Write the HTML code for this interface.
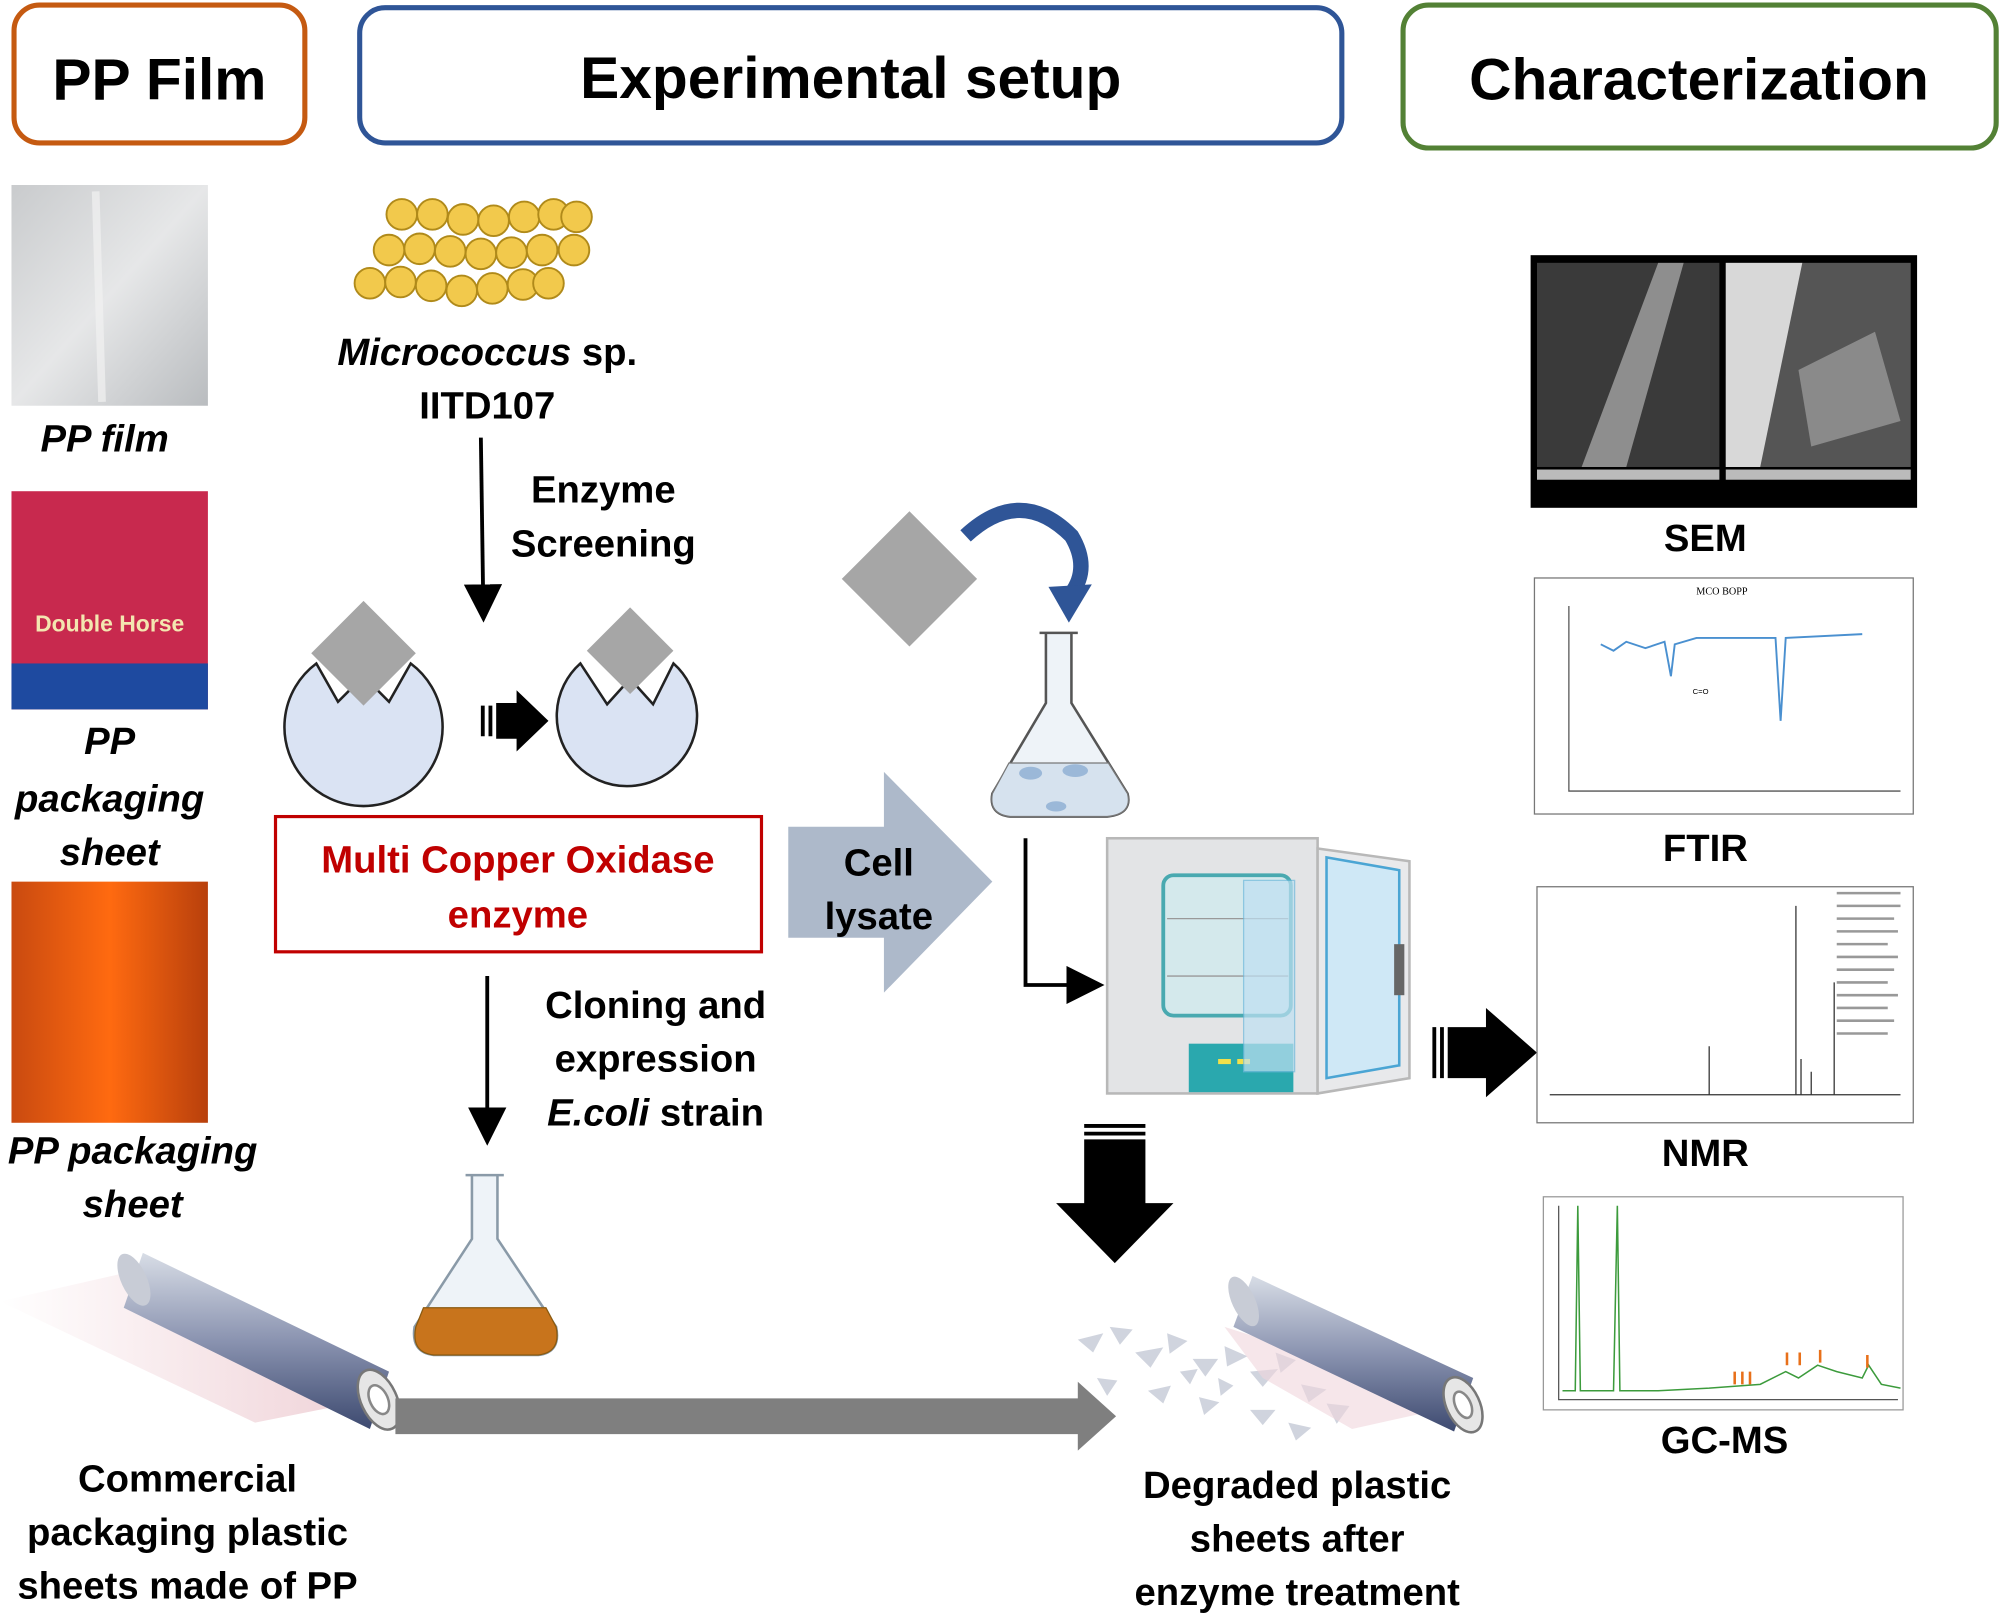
<!DOCTYPE html>
<html><head><meta charset="utf-8"><style>
html,body{margin:0;padding:0;background:#fff}
svg{display:block}
text{font-family:"Liberation Sans",sans-serif;font-weight:bold;fill:#000}
</style></head><body>
<svg width="2000" height="1614" viewBox="0 0 1568 1265" preserveAspectRatio="none" xmlns="http://www.w3.org/2000/svg">
<defs>
<linearGradient id="film" x1="0" y1="0" x2="1" y2="1"><stop offset="0" stop-color="#c9cbcd"/><stop offset="0.5" stop-color="#e6e7e8"/><stop offset="1" stop-color="#b9bcbf"/></linearGradient>
<linearGradient id="org" x1="0" x2="1"><stop offset="0" stop-color="#c94a10"/><stop offset="0.5" stop-color="#ff6a10"/><stop offset="1" stop-color="#b8400c"/></linearGradient>
<linearGradient id="roll" x1="0" y1="0" x2="0" y2="1"><stop offset="0" stop-color="#d8dde6"/><stop offset="0.5" stop-color="#8a93b0"/><stop offset="1" stop-color="#3d4a70"/></linearGradient>
<linearGradient id="sheet" x1="0" x2="1"><stop offset="0" stop-color="#fff"/><stop offset="1" stop-color="#e8bcc4"/></linearGradient>
<marker id="ah" markerWidth="10" markerHeight="10" refX="8" refY="5" orient="auto"><path d="M0,0 L10,5 L0,10 z" fill="#000"/></marker>
</defs>
<rect x="11" y="4" width="228" height="108" rx="20" fill="#fff" stroke="#c55a11" stroke-width="4"/>
<text x="125" y="78" font-size="46" text-anchor="middle">PP Film</text>
<rect x="282" y="6" width="770" height="106" rx="20" fill="#fff" stroke="#2f5597" stroke-width="4"/>
<text x="667" y="77" font-size="46" text-anchor="middle">Experimental setup</text>
<rect x="1100" y="4" width="465" height="112" rx="20" fill="#fff" stroke="#538135" stroke-width="4"/>
<text x="1332" y="78" font-size="46" text-anchor="middle">Characterization</text>

<rect x="9" y="145" width="154" height="173" fill="url(#film)"/>
<path d="M75 150 L80 315" stroke="#f2f2f2" stroke-width="6" opacity="0.7"/>
<text x="82" y="354" font-size="30" font-style="italic" text-anchor="middle">PP film</text>
<rect x="9" y="385" width="154" height="171" fill="#c8294e"/>
<rect x="9" y="520" width="154" height="36" fill="#1e4aa0"/>
<text x="86" y="495" font-size="18" text-anchor="middle" style="fill:#f3e6b0">Double Horse</text>
<text x="86" y="591" font-size="30" font-style="italic" text-anchor="middle">PP</text>
<text x="86" y="636" font-size="30" font-style="italic" text-anchor="middle">packaging</text>
<text x="86" y="678" font-size="30" font-style="italic" text-anchor="middle">sheet</text>
<rect x="9" y="691" width="154" height="189" fill="url(#org)"/>
<text x="104" y="912" font-size="30" font-style="italic" text-anchor="middle">PP packaging</text>
<text x="104" y="954" font-size="30" font-style="italic" text-anchor="middle">sheet</text>

<g fill="#f2c94c" stroke="#b08a1a" stroke-width="1.5">
<circle cx="315" cy="168" r="12"/><circle cx="339" cy="168" r="12"/><circle cx="363" cy="172" r="12"/><circle cx="387" cy="173" r="12"/><circle cx="411" cy="170" r="12"/><circle cx="434" cy="168" r="12"/><circle cx="452" cy="170" r="12"/>
<circle cx="305" cy="196" r="12"/><circle cx="329" cy="195" r="12"/><circle cx="353" cy="197" r="12"/><circle cx="377" cy="199" r="12"/><circle cx="401" cy="198" r="12"/><circle cx="425" cy="196" r="12"/><circle cx="450" cy="196" r="12"/>
<circle cx="290" cy="222" r="12"/><circle cx="314" cy="221" r="12"/><circle cx="338" cy="224" r="12"/><circle cx="362" cy="228" r="12"/><circle cx="386" cy="226" r="12"/><circle cx="410" cy="223" r="12"/><circle cx="430" cy="222" r="12"/>
</g>
<text x="382" y="286" font-size="30" text-anchor="middle"><tspan font-style="italic">Micrococcus</tspan> sp.</text>
<text x="382" y="328" font-size="30" text-anchor="middle">IITD107</text>
<line x1="377" y1="343" x2="379" y2="482" stroke="#000" stroke-width="3" marker-end="url(#ah)"/>
<text x="473" y="394" font-size="30" text-anchor="middle">Enzyme</text>
<text x="473" y="436" font-size="30" text-anchor="middle">Screening</text>

<path d="M248 520 A62 62 0 1 0 322 520 L305 550 L285 530 L265 550 Z" fill="#dae3f3" stroke="#222" stroke-width="2"/>
<rect x="256" y="483" width="58" height="58" fill="#a6a6a6" transform="rotate(45 285 512)"/>
<path d="M455 520 A55 55 0 1 0 528 520 L512 552 L494 532 L476 552 Z" fill="#dae3f3" stroke="#222" stroke-width="2"/>
<rect x="470" y="486" width="48" height="48" fill="#a6a6a6" transform="rotate(45 494 510)"/>
<path d="M377 553 h3 v24 h-3z M383 553 h3 v24 h-3z M389 551 h16 v-10 l25 24 l-25 24 v-10 h-16 z" fill="#000"/>

<rect x="216" y="640" width="381" height="106" fill="#fff" stroke="#c00000" stroke-width="2.5"/>
<text x="406" y="684" font-size="30" text-anchor="middle" style="fill:#c00000">Multi Copper Oxidase</text>
<text x="406" y="727" font-size="30" text-anchor="middle" style="fill:#c00000">enzyme</text>
<line x1="382" y1="765" x2="382" y2="892" stroke="#000" stroke-width="3" marker-end="url(#ah)"/>
<text x="514" y="798" font-size="30" text-anchor="middle">Cloning and</text>
<text x="514" y="840" font-size="30" text-anchor="middle">expression</text>
<text x="514" y="882" font-size="30" text-anchor="middle"><tspan font-style="italic">E.coli</tspan> strain</text>

<path d="M365 921 h30 M370 921 v50 L325 1040 Q322 1060 340 1062 h82 Q440 1060 436 1040 L390 971 v-50" fill="#eef3f8" stroke="#8a9aa8" stroke-width="2"/>
<path d="M332 1025 h96 L436 1040 Q440 1060 422 1062 h-82 Q322 1060 326 1040 Z" fill="#c8741c" stroke="#8a5a10"/>

<path d="M618 648 h75 v-43 l85 86 l-85 87 v-43 h-75 z" fill="#adb9ca"/>
<text x="689" y="686" font-size="30" text-anchor="middle">Cell</text>
<text x="689" y="728" font-size="30" text-anchor="middle">lysate</text>

<rect x="676" y="416" width="75" height="75" fill="#a6a6a6" transform="rotate(45 713 453)"/>
<path d="M757 420 Q800 380 840 420 Q855 445 840 465" fill="none" stroke="#2f5597" stroke-width="12"/>
<path d="M822 460 L838 488 L856 458 Z" fill="#2f5597"/>
<path d="M815 496 h30 M820 496 v55 L778 622 Q775 638 792 640 h76 Q888 638 884 622 L840 551 v-55" fill="#eef3f8" stroke="#555" stroke-width="2"/>
<path d="M791 598 h78 L884 622 Q888 638 868 640 h-76 Q775 638 778 622 Z" fill="#d6e2ee" stroke="#777"/>
<ellipse cx="808" cy="606" rx="9" ry="5" fill="#9bb8d8"/><ellipse cx="843" cy="604" rx="10" ry="5" fill="#9bb8d8"/><ellipse cx="828" cy="632" rx="8" ry="4" fill="#9bb8d8"/>
<path d="M804 657 V772 H860" fill="none" stroke="#000" stroke-width="3" marker-end="url(#ah)"/>

<rect x="868" y="657" width="165" height="200" fill="#e3e4e6" stroke="#b8b8b8" stroke-width="2"/>
<rect x="912" y="686" width="100" height="110" rx="8" fill="#d4e9ec" stroke="#49a9b0" stroke-width="3"/>
<line x1="915" y1="720" x2="1010" y2="720" stroke="#999"/><line x1="915" y1="765" x2="1010" y2="765" stroke="#999"/>
<rect x="932" y="818" width="82" height="38" fill="#2aa8ae"/>
<rect x="955" y="830" width="10" height="4" fill="#f2e04a"/><rect x="970" y="830" width="10" height="4" fill="#f2e04a"/>
<path d="M1033 665 L1105 675 V845 L1033 857 Z" fill="#e8e9eb" stroke="#b8b8b8" stroke-width="2"/>
<path d="M1040 672 L1097 682 V835 L1040 845 Z" fill="#cfe8f6" stroke="#4aa5d4" stroke-width="2"/>
<rect x="1093" y="740" width="8" height="40" fill="#666"/>
<path d="M975 690 h40 v150 h-40z" fill="#bfe0f2" opacity="0.7" stroke="#6fb9dc"/>

<path d="M1123 805 h3 v40 h-3z M1129 805 h3 v40 h-3z M1135 805 h30 v-15 l40 35 l-40 35 v-15 h-30z" fill="#000"/>
<path d="M850 881 h48 v3 h-48z M850 887 h48 v3 h-48z M850 893 h48 v50 h22 l-46 47 l-46 -47 h22z" fill="#000"/>

<path d="M0 1020 L110 995 L300 1095 L200 1115 Z" fill="url(#sheet)" opacity="0.7"/>
<path d="M112 982 L305 1075 L290 1120 L97 1025 Z" fill="url(#roll)"/>
<ellipse cx="105" cy="1003" rx="10" ry="22" transform="rotate(-25 105 1003)" fill="#c8ccd6"/>
<ellipse cx="297" cy="1097" rx="14" ry="25" transform="rotate(-25 297 1097)" fill="#e6e6e6" stroke="#777" stroke-width="2"/>
<ellipse cx="297" cy="1097" rx="7" ry="12" transform="rotate(-25 297 1097)" fill="#fff" stroke="#888" stroke-width="2"/>
<path d="M310 1096 h535 v-13 l30 27 l-30 27 v-13 h-535z" fill="#7f7f7f"/>
<text x="147" y="1169" font-size="30" text-anchor="middle">Commercial</text>
<text x="147" y="1211" font-size="30" text-anchor="middle">packaging plastic</text>
<text x="147" y="1253" font-size="30" text-anchor="middle">sheets made of PP</text>

<g fill="#c8ccd8" opacity="0.85">
<path d="M845 1050 l20 -5 l-8 15z M870 1040 l18 2 l-10 12z M890 1060 l22 -4 l-10 16z M915 1045 l16 6 l-14 10z M935 1065 l20 0 l-10 14z M960 1055 l18 8 l-16 8z M980 1075 l22 -2 l-12 14z M1000 1060 l16 6 l-12 10z M1020 1085 l20 4 l-14 10z M1040 1100 l18 2 l-10 14z M860 1080 l16 2 l-8 12z M900 1090 l18 -4 l-6 14z M940 1095 l16 4 l-12 10z M980 1105 l20 0 l-10 12z M1010 1115 l18 4 l-12 10z M955 1080 l12 6 l-10 8z M925 1075 l14 -2 l-6 12z"/>
</g>
<path d="M960 1040 L1150 1100 L1060 1120 L990 1080Z" fill="#f0d6dc" opacity="0.6"/>
<path d="M982 1000 L1155 1080 L1140 1122 L967 1040 Z" fill="url(#roll)"/>
<ellipse cx="975" cy="1020" rx="9" ry="21" transform="rotate(-25 975 1020)" fill="#c8ccd6"/>
<ellipse cx="1147" cy="1101" rx="13" ry="23" transform="rotate(-25 1147 1101)" fill="#e6e6e6" stroke="#777" stroke-width="2"/>
<ellipse cx="1147" cy="1101" rx="6" ry="11" transform="rotate(-25 1147 1101)" fill="#fff" stroke="#888" stroke-width="2"/>
<text x="1017" y="1174" font-size="30" text-anchor="middle">Degraded plastic</text>
<text x="1017" y="1216" font-size="30" text-anchor="middle">sheets after</text>
<text x="1017" y="1258" font-size="30" text-anchor="middle">enzyme treatment</text>

<rect x="1200" y="200" width="303" height="198" fill="#000"/>
<rect x="1205" y="206" width="143" height="160" fill="#3a3a3a"/>
<path d="M1240 366 L1300 206 L1320 206 L1275 366Z" fill="#8e8e8e"/>
<rect x="1353" y="206" width="145" height="160" fill="#555"/>
<path d="M1353 206 h60 L1380 366 h-27z" fill="#d8d8d8"/>
<path d="M1410 290 L1470 260 L1490 330 L1420 350Z" fill="#8a8a8a"/>
<rect x="1205" y="368" width="143" height="8" fill="#bbb"/><rect x="1353" y="368" width="145" height="8" fill="#bbb"/>
<text x="1337" y="432" font-size="30" text-anchor="middle">SEM</text>

<rect x="1203" y="453" width="297" height="185" fill="#fff" stroke="#777"/>
<text x="1350" y="466" font-size="8" text-anchor="middle" style="font-weight:normal;font-family:'Liberation Serif',serif">MCO BOPP</text>
<path d="M1230 475 V620 H1490" fill="none" stroke="#555"/>
<path d="M1255 505 L1265 510 L1275 503 L1290 508 L1305 503 L1310 530 L1313 505 L1330 500 L1385 500 L1392 500 L1396 565 L1400 500 L1460 497" fill="none" stroke="#4a90d0" stroke-width="1.5"/>
<text x="1327" y="544" font-size="6" style="font-weight:normal">C=O</text>
<text x="1337" y="675" font-size="30" text-anchor="middle">FTIR</text>

<rect x="1205" y="695" width="295" height="185" fill="#fff" stroke="#777"/>
<path d="M1215 858 H1490" stroke="#333"/>
<path d="M1340 858 V820 M1408 858 V710 M1412 858 V830 M1420 858 V840 M1438 858 V770" stroke="#333"/>
<path d="M1440 700 h50 M1440 710 h50 M1440 720 h45 M1440 730 h48 M1440 740 h40 M1440 750 h48 M1440 760 h45 M1440 770 h40 M1440 780 h48 M1440 790 h40 M1440 800 h45 M1440 810 h40" stroke="#999" stroke-width="2"/>
<text x="1337" y="914" font-size="30" text-anchor="middle">NMR</text>

<rect x="1210" y="938" width="282" height="167" fill="#fff" stroke="#999"/>
<path d="M1222 945 V1097 H1488" fill="none" stroke="#555"/>
<path d="M1225 1090 L1235 1090 L1237 945 L1239 1090 L1265 1090 L1268 945 L1270 1090 L1300 1090 L1340 1088 L1380 1085 L1400 1075 L1410 1080 L1425 1070 L1440 1075 L1460 1080 L1465 1070 L1475 1085 L1490 1088" fill="none" stroke="#3c9b3c" stroke-width="1.2"/>
<path d="M1360 1075 v10 M1366 1075 v10 M1372 1075 v10 M1401 1060 v10 M1411 1060 v10 M1427 1058 v10 M1464 1062 v10" stroke="#e8701a" stroke-width="2"/>
<text x="1352" y="1139" font-size="30" text-anchor="middle">GC-MS</text>
</svg>
</body></html>
